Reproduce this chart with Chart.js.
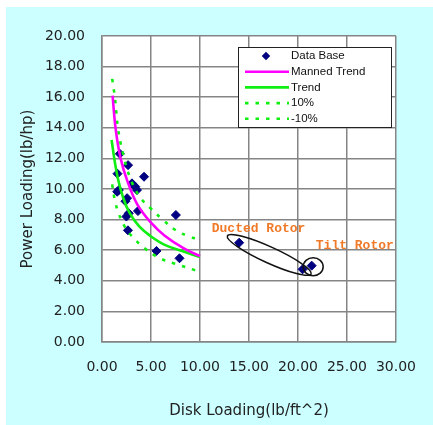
<!DOCTYPE html>
<html>
<head>
<meta charset="utf-8">
<script src="https://cdn.jsdelivr.net/npm/chart.js@4.4.1/dist/chart.umd.min.js"></script>
<style>
  html, body { margin: 0; padding: 0; background: #ffffff; }
  #wrap { position: absolute; left: 6px; top: 7px; width: 427px; height: 418px; background: #ccffff; }
</style>
</head>
<body>
<div id="wrap"><canvas id="chart"></canvas></div>
<script>
// data base points (disk loading, power loading)
const dbX = [1.58, 1.82, 2.66, 4.29, 1.55, 1.72, 3.06, 3.4, 3.57, 2.39, 2.56, 2.49, 2.73, 3.67, 2.65, 7.54, 5.56, 7.91, 14.0, 20.47, 21.4];
const dbY = [11.0, 12.3, 11.56, 10.8, 9.82, 9.93, 10.37, 10.15, 9.93, 9.2, 9.4, 8.2, 8.41, 8.56, 7.3, 8.3, 5.95, 5.47, 6.49, 4.75, 4.99];

// curves
const mannedX = [1.08, 1.4, 1.9, 2.6, 3.6, 5.0, 6.4, 8.4, 10.0];
const mannedY = [16.1, 13.9, 12.0, 10.5, 9.0, 7.8, 6.95, 6.1, 5.62];
const trendX = [0.98, 1.3, 1.65, 2.15, 2.8, 3.8, 5.0, 6.4, 8.4, 10.0];
const trendY = [13.2, 11.8, 10.6, 9.45, 8.45, 7.55, 6.9, 6.35, 5.9, 5.55];
const upX = [1.04, 1.31, 1.65, 2.15, 2.83, 3.84, 5.02, 6.2, 7.54, 8.89, 9.9];
const upY = [17.2, 16.0, 13.9, 12.3, 10.8, 9.5, 8.7, 8.0, 7.3, 6.9, 6.7];
const lowX = [1.04, 1.3, 1.7, 2.4, 3.0, 4.3, 6.0, 8.0, 10.0];
const lowY = [10.3, 9.3, 8.4, 7.45, 6.95, 6.15, 5.45, 5.0, 4.6];

const seriesLabels = ['Data Base', 'Manned Trend', 'Trend', '10%', '-10%'];
const xTicks = [0, 5, 10, 15, 20, 25, 30];
const yTicks = [0, 2, 4, 6, 8, 10, 12, 14, 16, 18, 20];

// annotation labels and groups
const noteText = ['Ducted Rotor', 'Tilt Rotor'];
const noteX = [11.2, 21.82];
const noteY = [7.39, 6.29];
const ringX = [17.07, 21.55];
const ringY = [5.69, 4.92];

const pts = (xs, ys) => xs.map((x, i) => ({ x: x, y: ys[i] }));

const navy = '#000080';
const magenta = '#ff00ff';
const green = '#11ee11';
const gridColor = '#858585';

const plotBg = {
  id: 'plotBg',
  beforeDraw(chart) {
    const a = chart.chartArea, ctx = chart.ctx;
    ctx.save();
    ctx.fillStyle = '#ffffff';
    ctx.fillRect(a.left, a.top, a.right - a.left, a.bottom - a.top);
    ctx.restore();
  }
};

const notes = {
  id: 'notes',
  afterDatasetsDraw(chart) {
    const ctx = chart.ctx, sx = chart.scales.x, sy = chart.scales.y;
    ctx.save();
    ctx.strokeStyle = '#111111';
    ctx.lineWidth = 1.5;
    // ducted rotor ellipse
    ctx.beginPath();
    ctx.ellipse(sx.getPixelForValue(ringX[0]), sy.getPixelForValue(ringY[0]), 46, 8, 24.5 * Math.PI / 180, 0, Math.PI * 2);
    ctx.stroke();
    // tilt rotor ring
    ctx.beginPath();
    ctx.ellipse(sx.getPixelForValue(ringX[1]), sy.getPixelForValue(ringY[1]), 10, 9, 0, 0, Math.PI * 2);
    ctx.stroke();
    ctx.fillStyle = '#f07a28';
    ctx.font = 'bold 13px "Liberation Mono", monospace';
    ctx.textBaseline = 'middle';
    ctx.textAlign = 'left';
    noteText.forEach((t, i) => {
      ctx.fillText(t, sx.getPixelForValue(noteX[i]), sy.getPixelForValue(noteY[i]));
    });
    ctx.restore();
  }
};

const boxLegend = {
  id: 'boxLegend',
  afterDraw(chart) {
    const ctx = chart.ctx;
    const bx = 232, by = 40, bw = 153, bh = 80;
    ctx.save();
    ctx.fillStyle = '#ffffff';
    ctx.fillRect(bx, by, bw, bh);
    ctx.strokeStyle = '#222222';
    ctx.lineWidth = 1;
    ctx.strokeRect(bx + 0.5, by + 0.5, bw, bh);
    ctx.font = '11.5px "Liberation Sans", Arial, sans-serif';
    ctx.textBaseline = 'middle';
    ctx.fillStyle = '#111111';
    chart.data.datasets.forEach((ds, i) => {
      const y = by + 9 + i * 15.7;
      if (i === 0) {
        ctx.save();
        ctx.fillStyle = navy;
        ctx.translate(bx + 28, y);
        ctx.rotate(Math.PI / 4);
        ctx.fillRect(-3, -3, 6, 6);
        ctx.restore();
      } else {
        ctx.save();
        ctx.strokeStyle = ds.borderColor;
        ctx.lineWidth = ds.borderWidth;
        ctx.setLineDash(ds.borderDash || []);
        ctx.beginPath();
        ctx.moveTo(bx + 7, y);
        ctx.lineTo(bx + 51, y);
        ctx.stroke();
        ctx.restore();
      }
      ctx.fillText(ds.label, bx + 53, y);
    });
    ctx.restore();
  }
};

const curve = (label, xs, ys, color, dash) => ({
  label: label,
  data: pts(xs, ys),
  showLine: true,
  borderColor: color,
  backgroundColor: color,
  borderWidth: 2.6,
  borderDash: dash,
  pointRadius: 0,
  tension: 0.4,
  order: 0
});

new Chart(document.getElementById('chart'), {
  type: 'scatter',
  data: {
    datasets: [
      {
        label: seriesLabels[0],
        data: pts(dbX, dbY),
        pointStyle: 'rectRot',
        pointRadius: 4.5,
        backgroundColor: navy,
        borderColor: navy,
        order: 5
      },
      curve(seriesLabels[1], mannedX, mannedY, magenta, []),
      curve(seriesLabels[2], trendX, trendY, green, []),
      curve(seriesLabels[3], upX, upY, green, [3.5, 7]),
      curve(seriesLabels[4], lowX, lowY, green, [3.5, 7])
    ]
  },
  options: {
    responsive: true,
    maintainAspectRatio: false,
    animation: false,
    layout: { padding: { top: 29, right: 34, left: 0, bottom: 0 } },
    plugins: { legend: { display: false }, tooltip: { enabled: false } },
    scales: {
      x: {
        type: 'linear',
        min: 0,
        max: 30,
        afterBuildTicks: s => { s.ticks = xTicks.map(v => ({ value: v })); },
        afterFit: s => { s.height = 83; },
        grid: { color: gridColor, lineWidth: 1.5, drawTicks: false },
        border: { color: gridColor, width: 1.5 },
        ticks: {
          padding: 17,
          color: '#222222',
          font: { family: 'DejaVu Sans', size: 14 },
          callback: v => Number(v).toFixed(2)
        },
        title: {
          display: true,
          text: 'Disk Loading(lb/ft^2)',
          color: '#222222',
          font: { family: 'DejaVu Sans', size: 15 },
          padding: { top: 0, bottom: 5 }
        }
      },
      y: {
        type: 'linear',
        min: 0,
        max: 20,
        afterBuildTicks: s => { s.ticks = yTicks.map(v => ({ value: v })); },
        afterFit: s => { s.width = 96; },
        grid: { color: gridColor, lineWidth: 1.5, drawTicks: false },
        border: { color: gridColor, width: 1.5 },
        ticks: {
          padding: 17,
          color: '#222222',
          font: { family: 'DejaVu Sans', size: 14 },
          callback: v => Number(v).toFixed(2)
        },
        title: {
          display: true,
          text: 'Power Loading(lb/hp)',
          color: '#222222',
          font: { family: 'DejaVu Sans', size: 15 },
          padding: { top: 13, bottom: 0 }
        }
      }
    }
  },
  plugins: [plotBg, notes, boxLegend]
});
</script>
</body>
</html>
